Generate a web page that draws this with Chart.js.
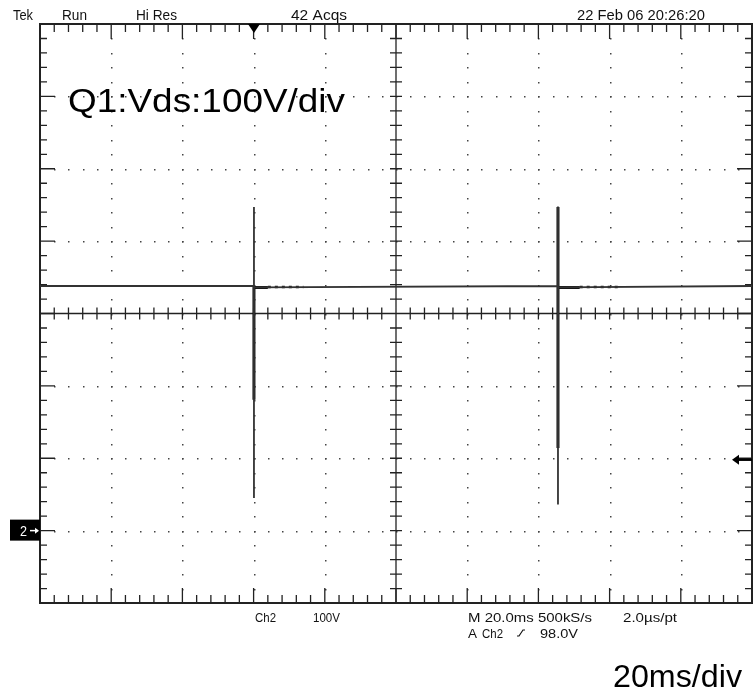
<!DOCTYPE html>
<html>
<head>
<meta charset="utf-8">
<script src="https://cdn.jsdelivr.net/npm/chart.js@4/dist/chart.umd.min.js"></script>
<style>
  body { margin: 0; background: #fff; }
  canvas { display: block; }
</style>
</head>
<body>
<canvas id="scopeChart" width="753" height="692"></canvas>
<script>
// time in ms (20 ms/div), Ch2 voltage in V (100 V/div), ground marker at 0 V
const xTicks = [0, 20, 40, 60, 80, 100, 120, 140, 160, 180, 200];
const yTicks = [-100, 0, 100, 200, 300, 400, 500, 600, 700];

const traceTime  = [0, 60.1, 60.1, 60.1, 60.1, 145.5, 145.5, 145.5, 145.5, 200];
const traceVolts = [338, 338, 447, 45, 336, 338, 448, 36, 336, 338];

// heavy (dense) part of each switching spike
const denseTime  = [60.1, 60.1, null, 145.5, 145.5];
const denseVolts = [338, 181, null, 447, 114];

// ringing right after each spike
const ringTime  = [60.1, 64.0, null, 145.5, 151.6];
const ringVolts = [336, 336, null, 336, 336];
const tailTime  = [64.0, 74.0, null, 151.6, 163.0];
const tailVolts = [336.5, 336.5, null, 336.5, 336.5];

const triggerTime = 60.1;
const triggerLevel = 98;
const groundLevel = 0;

function toPoints(xs, ys) {
    let last = xs[0];
    return xs.map((x, i) => {
        if (x !== null) last = x;
        return { x: last, y: ys[i] };
    });
}

function fitText(ctx, str, x, y, size, width) {
    ctx.save();
    ctx.font = size + 'px "Liberation Sans", Arial, sans-serif';
    const w = ctx.measureText(str).width;
    ctx.translate(x, y);
    ctx.scale(width / w, 1);
    ctx.fillText(str, 0, 0);
    ctx.restore();
}

const graticule = {
    id: 'graticule',
    beforeDatasetsDraw(chart) {
        const { ctx, chartArea: a, scales: { x, y } } = chart;
        const xStep = (xTicks[1] - xTicks[0]) / 5;
        const yStep = (yTicks[1] - yTicks[0]) / 5;
        const xMid = xTicks[5], yMid = yTicks[4];
        ctx.save();
        // dotted major lines
        ctx.fillStyle = '#444';
        xTicks.slice(1, -1).forEach(t => {
            if (t === xMid) return;
            const px = Math.round(x.getPixelForValue(t));
            for (let v = yTicks[0] + yStep; v < yTicks[yTicks.length - 1]; v += yStep) {
                ctx.fillRect(px, Math.round(y.getPixelForValue(v)), 1.5, 1.5);
            }
        });
        yTicks.slice(1, -1).forEach(t => {
            if (t === yMid) return;
            const py = Math.round(y.getPixelForValue(t));
            for (let v = xTicks[0] + xStep; v < xTicks[xTicks.length - 1]; v += xStep) {
                ctx.fillRect(Math.round(x.getPixelForValue(v)), py, 1.5, 1.5);
            }
        });
        // solid centre cross with minor ticks
        ctx.strokeStyle = '#222';
        ctx.lineWidth = 1.3;
        const cx = x.getPixelForValue(xMid), cy = y.getPixelForValue(yMid);
        ctx.beginPath();
        ctx.moveTo(cx, a.top); ctx.lineTo(cx, a.bottom);
        ctx.moveTo(a.left, cy); ctx.lineTo(a.right, cy);
        for (let v = xTicks[0] + xStep; v < xTicks[xTicks.length - 1]; v += xStep) {
            const px = x.getPixelForValue(v);
            ctx.moveTo(px, cy - 6); ctx.lineTo(px, cy + 6);
        }
        for (let v = yTicks[0] + yStep; v < yTicks[yTicks.length - 1]; v += yStep) {
            const py = y.getPixelForValue(v);
            ctx.moveTo(cx - 6, py); ctx.lineTo(cx + 6, py);
        }
        ctx.stroke();
        // border with ticks
        ctx.lineWidth = 2;
        ctx.strokeRect(a.left, a.top, a.right - a.left, a.bottom - a.top);
        ctx.lineWidth = 1.3;
        ctx.beginPath();
        for (let v = xTicks[0] + xStep; v < xTicks[xTicks.length - 1] - 0.01; v += xStep) {
            const px = x.getPixelForValue(v);
            const major = Math.abs(v / xTicks[1] - Math.round(v / xTicks[1])) < 0.01;
            const len = major ? 15 : 8;
            ctx.moveTo(px, a.top); ctx.lineTo(px, a.top + len);
            ctx.moveTo(px, a.bottom); ctx.lineTo(px, a.bottom - len);
        }
        for (let v = yTicks[0] + yStep; v < yTicks[yTicks.length - 1] - 0.01; v += yStep) {
            const py = y.getPixelForValue(v);
            const major = Math.abs(v / 100 - Math.round(v / 100)) < 0.01;
            const len = major ? 15 : 7;
            ctx.moveTo(a.left, py); ctx.lineTo(a.left + len, py);
            ctx.moveTo(a.right, py); ctx.lineTo(a.right - len, py);
        }
        ctx.stroke();
        ctx.restore();
    },
    afterDraw(chart) {
        const { ctx, chartArea: a, scales: { x, y } } = chart;
        ctx.save();
        ctx.fillStyle = '#111';
        // header readout
        fitText(ctx, 'Tek', 13, 20, 15, 20);
        fitText(ctx, 'Run', 62, 20, 15, 25);
        fitText(ctx, 'Hi Res', 136, 20, 15, 41);
        fitText(ctx, '42 Acqs', 291, 20, 15, 56);
        fitText(ctx, '22 Feb 06 20:26:20', 577, 20, 15, 128);
        // footer readout
        fitText(ctx, 'Ch2', 255, 622, 13, 21);
        fitText(ctx, '100V', 313, 622, 13, 27);
        fitText(ctx, 'M 20.0ms 500kS/s', 468, 622, 13, 124);
        fitText(ctx, '2.0\u00b5s/pt', 623, 622, 13, 54);
        fitText(ctx, 'A', 468, 638, 13, 9);
        fitText(ctx, 'Ch2', 482, 638, 13, 21);
        fitText(ctx, '98.0V', 540, 638, 13, 38);
        ctx.strokeStyle = '#111';
        ctx.lineWidth = 1.2;
        ctx.beginPath();
        ctx.moveTo(517, 636); ctx.lineTo(519, 636); ctx.lineTo(523, 630); ctx.lineTo(525, 630);
        ctx.stroke();
        // annotations
        ctx.fillStyle = '#000';
        fitText(ctx, 'Q1:Vds:100V/div', 68, 112, 33, 277);
        fitText(ctx, '20ms/div', 613, 687, 32, 129);
        // trigger position marker
        const tx = x.getPixelForValue(triggerTime);
        ctx.beginPath();
        ctx.moveTo(tx - 6, a.top); ctx.lineTo(tx + 6, a.top); ctx.lineTo(tx, a.top + 9);
        ctx.closePath();
        ctx.fill();
        // trigger level arrow
        const ty = y.getPixelForValue(triggerLevel);
        ctx.lineWidth = 2.5;
        ctx.strokeStyle = '#000';
        ctx.beginPath();
        ctx.moveTo(a.right, ty); ctx.lineTo(a.right - 16, ty);
        ctx.stroke();
        ctx.beginPath();
        ctx.moveTo(a.right - 20, ty); ctx.lineTo(a.right - 13, ty - 5); ctx.lineTo(a.right - 13, ty + 5);
        ctx.closePath();
        ctx.fill();
        // ground marker
        const gy = y.getPixelForValue(groundLevel);
        ctx.fillRect(10, gy - 11, 30, 21);
        ctx.fillStyle = '#fff';
        fitText(ctx, '2', 20, gy + 5, 14, 7);
        ctx.strokeStyle = '#fff';
        ctx.lineWidth = 1.5;
        ctx.beginPath();
        ctx.moveTo(30, gy); ctx.lineTo(38, gy);
        ctx.stroke();
        ctx.beginPath();
        ctx.moveTo(39, gy); ctx.lineTo(35, gy - 3); ctx.lineTo(35, gy + 3);
        ctx.closePath();
        ctx.fill();
        ctx.restore();
    }
};

new Chart(document.getElementById('scopeChart'), {
    type: 'line',
    data: {
        datasets: [
            {
                label: 'Q1 Vds',
                data: toPoints(traceTime, traceVolts),
                borderColor: '#333',
                borderWidth: 1.8,
                pointRadius: 0,
                tension: 0
            },
            {
                label: 'dense',
                data: toPoints(denseTime, denseVolts),
                borderColor: '#111',
                borderWidth: 3,
                pointRadius: 0,
                spanGaps: false
            },
            {
                label: 'ringing',
                data: toPoints(ringTime, ringVolts),
                borderColor: '#111',
                borderWidth: 3,
                pointRadius: 0,
                spanGaps: false
            },
            {
                label: 'ringing tail',
                data: toPoints(tailTime, tailVolts),
                borderColor: '#222',
                borderWidth: 2.5,
                borderDash: [3, 4],
                pointRadius: 0,
                spanGaps: false
            }
        ]
    },
    options: {
        responsive: false,
        animation: false,
        layout: { padding: { left: 40, right: 1, top: 24, bottom: 89 } },
        plugins: { legend: { display: false }, tooltip: { enabled: false } },
        scales: {
            x: { type: 'linear', display: false, min: xTicks[0], max: xTicks[xTicks.length - 1] },
            y: { type: 'linear', display: false, min: yTicks[0], max: yTicks[yTicks.length - 1] }
        }
    },
    plugins: [graticule]
});
</script>
</body>
</html>
